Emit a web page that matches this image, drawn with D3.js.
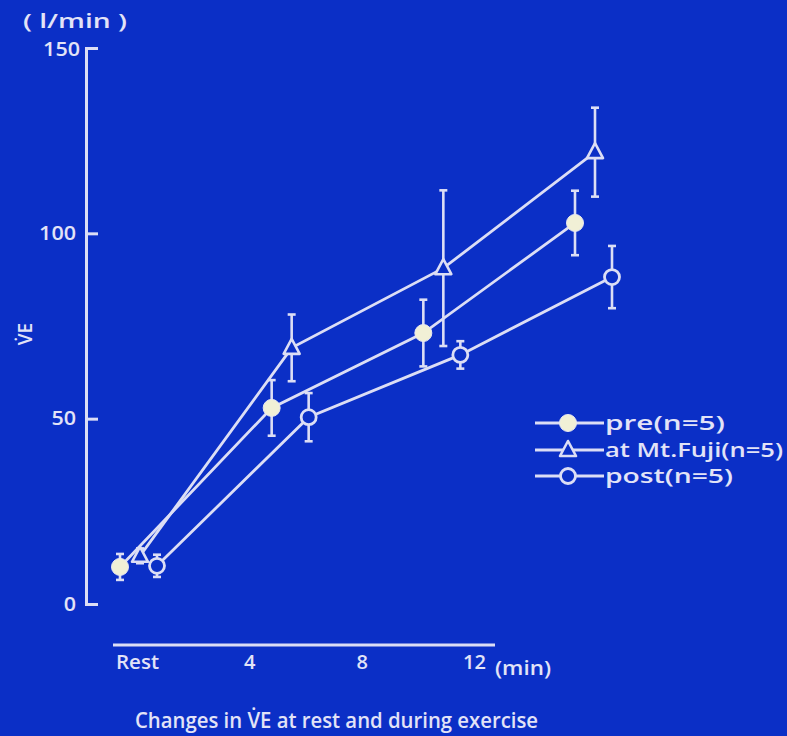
<!DOCTYPE html>
<html>
<head>
<meta charset="utf-8">
<script src="https://cdnjs.cloudflare.com/ajax/libs/d3/7.8.5/d3.min.js"></script>
<style>
  html, body { margin: 0; padding: 0; background: #0b2fc6; }
  svg { display: block; }
  text { font-family: "Open Sans", Lato, sans-serif; font-weight: 600; fill: #e2e3f7; }
</style>
</head>
<body>
<svg id="chart" width="787" height="736"></svg>
<script>
// ---- data ----
const times = [0, 4, 8, 12];
const xLabels = ["Rest", "4", "8", "12"];
const yTicks = [0, 50, 100, 150];
const seriesNames = ["pre(n=5)", "at Mt.Fuji(n=5)", "post(n=5)"];
const preMean  = [10.0, 52.9, 73.1, 102.8];
const preErr   = [3.5, 7.5, 9.0, 8.7];
const fujiMean = [13.0, 69.1, 90.6, 121.9];
const fujiErr  = [2.0, 9.0, 21.0, 12.0];
const postMean = [10.3, 50.4, 67.2, 88.2];
const postErr  = [3.0, 6.5, 3.7, 8.4];

const ink = "#dcdef5";
const bg = "#0b2fc6";
const fillPre = "#f1f0d6";
const font = "\"Open Sans\", Lato, sans-serif";

const svg = d3.select("#chart");
svg.append("rect").attr("width", 787).attr("height", 736).attr("fill", bg);

const y = d3.scaleLinear().domain([0, 150]).range([604, 48]);
const x = d3.scaleLinear().domain([0, 12]).range([140, 595]);
const xLab = d3.scalePoint().domain(xLabels).range([137, 474]);

// y axis
const yAxis = d3.axisLeft(y).tickValues(yTicks).tickSizeInner(-12).tickSizeOuter(-11).tickPadding(10);
const gy = svg.append("g").attr("transform", "translate(86,0)").call(yAxis);
gy.select(".domain").attr("stroke", ink).attr("stroke-width", 3).attr("fill", "none");
gy.selectAll(".tick line").attr("stroke", ink).attr("stroke-width", 3);
gy.selectAll(".tick text").attr("fill", "#e2e3f7").style("font-size", "19px").style("font-family", font)
  .style("font-weight", 600).attr("textLength", d => String(d).length * 12.3).attr("lengthAdjust", "spacingAndGlyphs");
gy.selectAll(".tick").filter(d => d === 150).select("text").attr("dy", "0.4em").attr("x", -6);

// x axis
const xAxis = d3.axisBottom(xLab).tickSize(0).tickPadding(10);
const gx = svg.append("g").attr("transform", "translate(0,645)").call(xAxis);
gx.select(".domain").attr("d", "M113,0H495").attr("stroke", ink).attr("stroke-width", 3);
gx.selectAll(".tick text").attr("fill", "#e2e3f7").style("font-size", "20px").style("font-family", font)
  .style("font-weight", 600);
gx.selectAll(".tick").filter(d => d === "Rest").select("text").attr("textLength", 43).attr("lengthAdjust", "spacingAndGlyphs");

svg.append("text").attr("x", 495).attr("y", 675).style("font-size", "20px")
   .attr("textLength", 56).attr("lengthAdjust", "spacingAndGlyphs").text("(min)");
svg.append("text").attr("x", 23).attr("y", 28).style("font-size", "19px")
   .attr("textLength", 104).attr("lengthAdjust", "spacingAndGlyphs").text("( l/min )");
svg.append("text").attr("transform", "translate(32,334) rotate(-90)").attr("text-anchor", "middle")
   .style("font-size", "19px").text("V\u0307E");
svg.append("text").attr("x", 135).attr("y", 728)
   .style("font-size", "21px").attr("textLength", 403).attr("lengthAdjust", "spacingAndGlyphs")
   .text("Changes in V\u0307E at rest and during exercise");

// series
const series = [
  { mean: preMean, err: preErr, off: -20, shape: "filled" },
  { mean: fujiMean, err: fujiErr, off: 0, shape: "triangle" },
  { mean: postMean, err: postErr, off: 17, shape: "open" }
];

const line = d3.line().x(d => d[0]).y(d => d[1]);

series.forEach(s => {
  const pts = times.map((t, i) => [x(t) + s.off, y(s.mean[i]), s.err[i], s.mean[i]]);
  svg.append("path").attr("d", line(pts)).attr("fill", "none").attr("stroke", ink).attr("stroke-width", 2.8);
  const g = svg.append("g");
  pts.forEach(p => {
    const top = y(p[3] + p[2]), bot = y(p[3] - p[2]);
    g.append("line").attr("x1", p[0]).attr("x2", p[0]).attr("y1", top).attr("y2", bot).attr("stroke", ink).attr("stroke-width", 2.6);
    [top, bot].forEach(v => g.append("line").attr("x1", p[0] - 4).attr("x2", p[0] + 4).attr("y1", v).attr("y2", v).attr("stroke", ink).attr("stroke-width", 2.6));
  });
  pts.forEach(p => drawMarker(svg, s.shape, p[0], p[1]));
});

function drawMarker(g, shape, cx, cy) {
  if (shape === "filled") {
    g.append("circle").attr("cx", cx).attr("cy", cy).attr("r", 8.5).attr("fill", fillPre).attr("stroke", "#e8e8f0").attr("stroke-width", 1);
  } else if (shape === "open") {
    g.append("circle").attr("cx", cx).attr("cy", cy).attr("r", 7.5).attr("fill", bg).attr("stroke", ink).attr("stroke-width", 2.8);
  } else {
    const h = 15, w = 16;
    g.append("path").attr("d", `M${cx},${cy - h * 0.6}L${cx + w / 2},${cy + h * 0.4}L${cx - w / 2},${cy + h * 0.4}Z`)
      .attr("fill", bg).attr("stroke", ink).attr("stroke-width", 2.6).attr("stroke-linejoin", "round");
  }
}

// legend
const legY = [423, 450, 476];
const legW = [120, 178, 128];
series.forEach((s, i) => {
  const yy = legY[i];
  svg.append("line").attr("x1", 535).attr("x2", 604).attr("y1", yy).attr("y2", yy).attr("stroke", ink).attr("stroke-width", 2.8);
  drawMarker(svg, s.shape, 568, yy);
  svg.append("text").attr("x", 605).attr("y", yy + 7).style("font-size", "20px")
     .attr("textLength", legW[i]).attr("lengthAdjust", "spacingAndGlyphs").text(seriesNames[i]);
});
</script>
</body>
</html>
